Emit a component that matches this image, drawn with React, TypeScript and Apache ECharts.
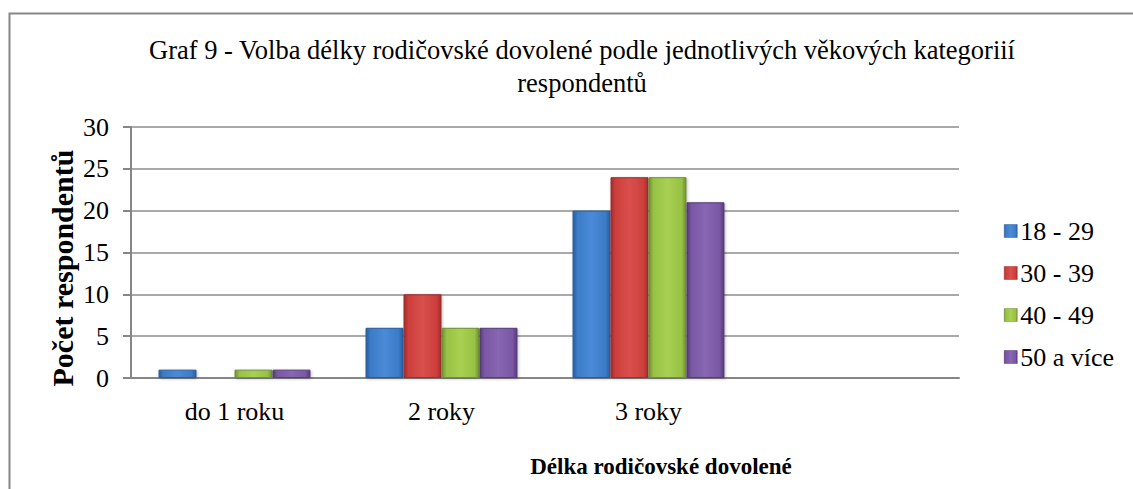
import React, { useEffect, useRef } from "react";
import * as echarts from "echarts";

const titleText = "Graf 9 - Volba délky rodičovské dovolené podle jednotlivých věkových kategoriií\nrespondentů";
const yAxisTitle = "Počet respondentů";
const xAxisTitle = "Délka rodičovské dovolené";
const categories = ["do 1 roku", "2 roky", "3 roky", ""];
const seriesNames = ["18 - 29", "30 - 39", "40 - 49", "50 a více"];
const s1829 = [1, 6, 20, null];
const s3039 = [0, 10, 24, null];
const s4049 = [1, 6, 24, null];
const s50 = [1, 6, 21, null];
const yTicks = { min: 0, max: 30, interval: 5 };

const palette = [
  { dark: "#2a5c9c", main: "#3b7bc8", light: "#4a8ad6" },
  { dark: "#9e2e2b", main: "#cc3e3b", light: "#d9504c" },
  { dark: "#6f8f33", main: "#98c245", light: "#a8d052" },
  { dark: "#553b78", main: "#7a57a4", light: "#8866b2" },
];

const FONT = "Liberation Serif";

function grad(c: { dark: string; main: string; light: string }) {
  return new echarts.graphic.LinearGradient(0, 0, 1, 0, [
    { offset: 0, color: c.dark },
    { offset: 0.12, color: c.main },
    { offset: 0.5, color: c.light },
    { offset: 0.88, color: c.main },
    { offset: 1, color: c.dark },
  ]);
}

export default function App() {
  const ref = useRef<HTMLDivElement>(null);
  useEffect(() => {
    if (!ref.current) return;
    const chart = echarts.init(ref.current, null, { renderer: "svg" });
    const data = [s1829, s3039, s4049, s50];
    chart.setOption({
      animation: false,
      backgroundColor: "#ffffff",
      title: {
        text: titleText,
        left: 577,
        top: 28,
        textAlign: "center",
        textStyle: {
          fontFamily: FONT,
          fontSize: 26.5,
          fontWeight: "normal",
          color: "#000",
          lineHeight: 33,
        },
      },
      legend: {
        orient: "vertical",
        left: 999,
        top: 213,
        itemGap: 16,
        itemWidth: 13,
        itemHeight: 13,
        icon: "rect",
        textStyle: { fontFamily: FONT, fontSize: 26, color: "#000", padding: [0, 0, 0, -2] },
        data: seriesNames.map((n, i) => ({
          name: n,
          itemStyle: { color: grad(palette[i]), borderColor: palette[i].dark, borderWidth: 0.5 },
        })),
      },
      grid: { left: 131, top: 127, right: 174, bottom: 111, containLabel: false },
      xAxis: {
        type: "category",
        data: categories,
        axisLine: { show: true, lineStyle: { color: "#868686", width: 2 } },
        axisTick: { show: false },
        axisLabel: { fontFamily: FONT, fontSize: 26, color: "#000", margin: 20 },
      },
      yAxis: {
        type: "value",
        min: yTicks.min,
        max: yTicks.max,
        interval: yTicks.interval,
        axisLine: { show: true, lineStyle: { color: "#868686", width: 2 } },
        axisTick: { show: true, length: 8, lineStyle: { color: "#868686", width: 2 } },
        splitLine: { show: true, lineStyle: { color: "#8c8c8c", width: 1.5 } },
        axisLabel: { fontFamily: FONT, fontSize: 26, color: "#000", margin: 22 },
      },
      graphic: [
        {
          type: "rect",
          shape: { x: 9.5, y: 13.5, width: 1200, height: 600 },
          style: { fill: "none", stroke: "#868686", lineWidth: 2 },
          silent: true,
          z: 100,
        },
        {
          type: "text",
          x: 62,
          y: 268,
          rotation: Math.PI / 2,
          style: {
            text: yAxisTitle,
            fontFamily: FONT,
            fontSize: 30,
            fontWeight: "bold",
            fill: "#000",
            align: "center",
            verticalAlign: "middle",
          },
        },
        {
          type: "text",
          x: 661,
          y: 466,
          style: {
            text: xAxisTitle,
            fontFamily: FONT,
            fontSize: 23,
            fontWeight: "bold",
            fill: "#000",
            align: "center",
            verticalAlign: "middle",
          },
        },
      ],
      series: seriesNames.map((n, i) => ({
        name: n,
        type: "bar",
        data: data[i],
        barGap: "0%",
        barCategoryGap: "26.6%",
        itemStyle: {
          color: grad(palette[i]),
          borderColor: palette[i].dark,
          borderWidth: 1,
          shadowColor: "rgba(0,0,0,0.25)",
          shadowBlur: 3,
          shadowOffsetX: 1,
          shadowOffsetY: 1,
        },
      })),
    });
    return () => chart.dispose();
  }, []);
  return (
    <div
      ref={ref}
      style={{ position: "fixed", left: 0, top: 0, width: 1133, height: 489 }}
    />
  );
}
